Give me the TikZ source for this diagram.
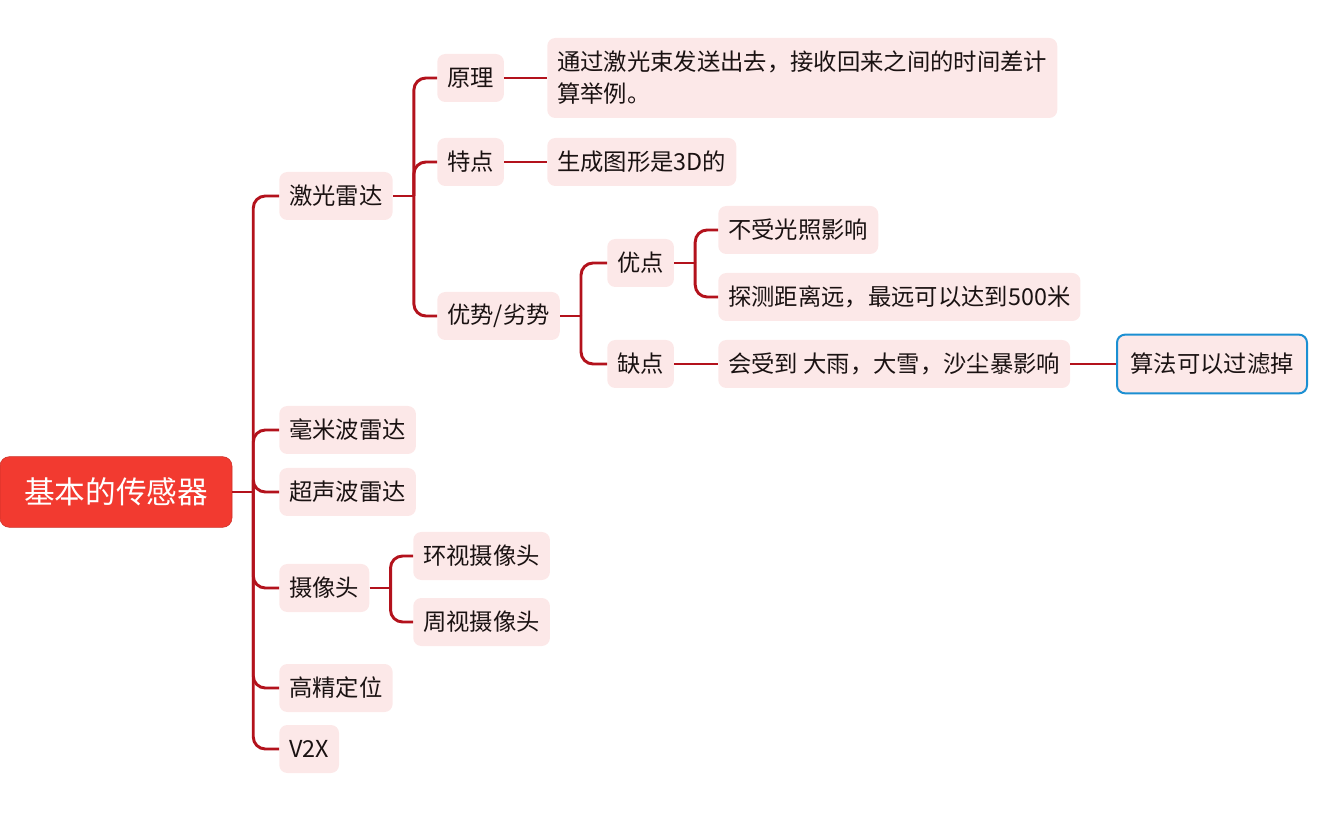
\documentclass[tikz,border=0pt]{standalone}
\usepackage{fontspec}
\setmainfont{Noto Sans CJK SC}
\usetikzlibrary{positioning}
\definecolor{nodefill}{HTML}{FCE8E8}
\definecolor{linkred}{HTML}{B3121C}
\definecolor{rootred}{HTML}{F23A30}
\definecolor{noteblue}{HTML}{1B8FD2}
\definecolor{ink}{HTML}{1A1212}

\begin{document}
\begin{tikzpicture}[
  x=0.75pt, y=-0.75pt,
  topic/.style={fill=nodefill, rounded corners=6pt, inner xsep=7.5pt, inner ysep=3pt, minimum height=36pt, anchor=west, text=ink, font=\fontsize{17.5}{24}\selectfont},
  root/.style={draw=rootred!85!black, fill=rootred, rounded corners=7pt, inner xsep=18pt, minimum height=53pt, text=white, font=\fontsize{23}{26}\selectfont},
  note/.style={topic, draw=noteblue, line width=1.5pt, inner xsep=10pt, minimum height=44pt},
  link/.style={draw=linkred, line width=2.2pt, rounded corners=9pt}
]
\useasboundingbox (0,0) rectangle (1336,830);

\node[root] (root) at (116,492) {基本的传感器};

\node[topic] (lidar) at (279,196) {激光雷达};
\node[topic] (mmw) at (279,430) {毫米波雷达};
\node[topic] (ultra) at (279,492) {超声波雷达};
\node[topic] (camera) at (279,588) {摄像头};
\node[topic] (hdmap) at (279,688) {高精定位};
\node[topic] (vtx) at (279,749) {V2X};

\node[topic] (principle) at (437,78) {原理};
\node[topic] (feature) at (437,162) {特点};
\node[topic] (proscons) at (437,316) {优势/劣势};
\node[topic, align=left, minimum height=60pt] (principletxt) at (547,78) {通过激光束发送出去，接收回来之间的时间差计\\算举例。};
\node[topic] (featuretxt) at (547,162) {生成图形是3D的};

\node[topic] (pros) at (607,263) {优点};
\node[topic] (cons) at (607,364) {缺点};
\node[topic] (pros1) at (718,230) {不受光照影响};
\node[topic] (pros2) at (718,297) {探测距离远，最远可以达到500米};
\node[topic] (cons1) at (718,364) {会受到 大雨，大雪，沙尘暴影响};
\node[note] (fix) at (1116,364) {算法可以过滤掉};

\node[topic] (camaround) at (413,556) {环视摄像头};
\node[topic] (camside) at (413,622) {周视摄像头};

\path (root.east) ++(21,0) coordinate (rootj);
\path (lidar.east) ++(21,0) coordinate (lidarj);
\path (proscons.east) ++(21,0) coordinate (prosconsj);
\path (pros.east) ++(21,0) coordinate (prosj);
\path (camera.east) ++(21,0) coordinate (cameraj);

\draw[link] (root.east) -- (rootj);
\foreach \c in {lidar,mmw,ultra,camera,hdmap,vtx}
  \draw[link] (rootj) |- (\c.west);

\draw[link] (lidar.east) -- (lidarj);
\foreach \c in {principle,feature,proscons}
  \draw[link] (lidarj) |- (\c.west);
\draw[link] (principle.east) -- (principle.east -| principletxt.west);
\draw[link] (feature.east) -- (featuretxt.west);

\draw[link] (proscons.east) -- (prosconsj);
\foreach \c in {pros,cons}
  \draw[link] (prosconsj) |- (\c.west);
\draw[link] (pros.east) -- (prosj);
\foreach \c in {pros1,pros2}
  \draw[link] (prosj) |- (\c.west);
\draw[link] (cons.east) -- (cons1.west);
\draw[link] (cons1.east) -- (fix.west);

\draw[link] (camera.east) -- (cameraj);
\foreach \c in {camaround,camside}
  \draw[link] (cameraj) |- (\c.west);
\end{tikzpicture}
\end{document}
